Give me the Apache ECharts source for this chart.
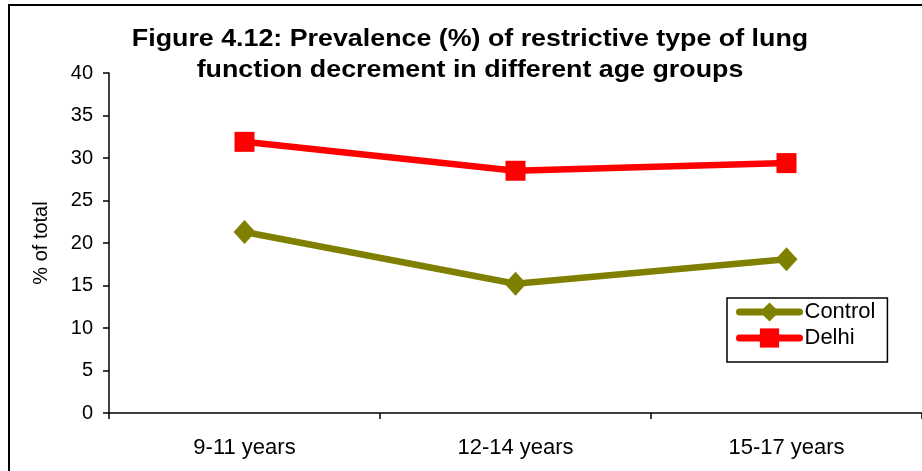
<!DOCTYPE html>
<html>
<head>
<meta charset="utf-8">
<script src="https://cdn.jsdelivr.net/npm/echarts@6/dist/echarts.min.js"></script>
<style>
html,body{margin:0;padding:0;background:#fff;}
#chart{width:922px;height:471px;}
</style>
</head>
<body>
<div id="chart"></div>
<script>
const titleLines = ["Figure 4.12: Prevalence (%) of restrictive type of lung", "function decrement in different age groups"];
const categories = ["9-11 years", "12-14 years", "15-17 years"];
const controlValues = [21.3, 15.2, 18.1];
const delhiValues = [31.9, 28.5, 29.4];
const yAxisName = "% of total";
const seriesNames = ["Control", "Delhi"];

const chart = echarts.init(document.getElementById('chart'), null, {renderer: 'canvas'});
const font = "'Liberation Sans', Arial, sans-serif";
chart.setOption({
  animation: false,
  backgroundColor: '#fff',
  graphic: [{
    type: 'rect',
    shape: {x: 9, y: 5, width: 1000, height: 1000},
    style: {fill: 'none', stroke: '#000', lineWidth: 2}
  }, {
    type: 'text',
    x: 470,
    y: 24,
    scaleX: 1.117,
    style: {
      text: titleLines.join('\n'),
      x: 0, y: 0,
      align: 'center',
      verticalAlign: 'top',
      fontFamily: font,
      fontWeight: 'bold',
      fontSize: 24,
      lineHeight: 31,
      fill: '#000'
    }
  }],
  legend: {
    left: 727,
    top: 298,
    orient: 'vertical',
    padding: [3, 12, 13, 9],
    itemGap: 4,
    itemWidth: 60,
    itemHeight: 24,
    borderColor: '#000',
    borderWidth: 1.5,
    backgroundColor: '#fff',
    lineStyle: {width: 7, cap: 'round'},
    textStyle: {fontFamily: font, fontSize: 22, color: '#000'},
    data: seriesNames
  },
  grid: {left: 109, right: 0, top: 73, bottom: 58, containLabel: false},
  xAxis: {
    type: 'category',
    data: categories,
    boundaryGap: true,
    axisLine: {lineStyle: {color: '#000', width: 1.5}},
    axisTick: {show: true, length: 6, inside: false, lineStyle: {color: '#000', width: 1.5}},
    axisLabel: {margin: 24, fontFamily: font, fontSize: 22, color: '#000'},
    splitLine: {show: false}
  },
  yAxis: {
    type: 'value',
    min: 0,
    max: 40,
    interval: 5,
    name: yAxisName,
    nameLocation: 'middle',
    nameGap: 58,
    nameTextStyle: {fontFamily: font, fontSize: 20, color: '#000'},
    axisLine: {show: true, lineStyle: {color: '#000', width: 1.5}},
    axisTick: {show: true, length: 6, lineStyle: {color: '#000', width: 1.5}},
    axisLabel: {margin: 16, fontFamily: font, fontSize: 20, color: '#000'},
    splitLine: {show: false}
  },
  series: [
    {
      name: seriesNames[0],
      type: 'line',
      data: controlValues,
      symbol: 'diamond',
      symbolSize: [22, 24],
      itemStyle: {color: '#808000'},
      lineStyle: {color: '#808000', width: 6.5},
      z: 2
    },
    {
      name: seriesNames[1],
      type: 'line',
      data: delhiValues,
      symbol: 'rect',
      symbolSize: [20, 20],
      itemStyle: {color: '#FF0000'},
      lineStyle: {color: '#FF0000', width: 6.5},
      z: 3
    }
  ]
});
</script>
</body>
</html>
